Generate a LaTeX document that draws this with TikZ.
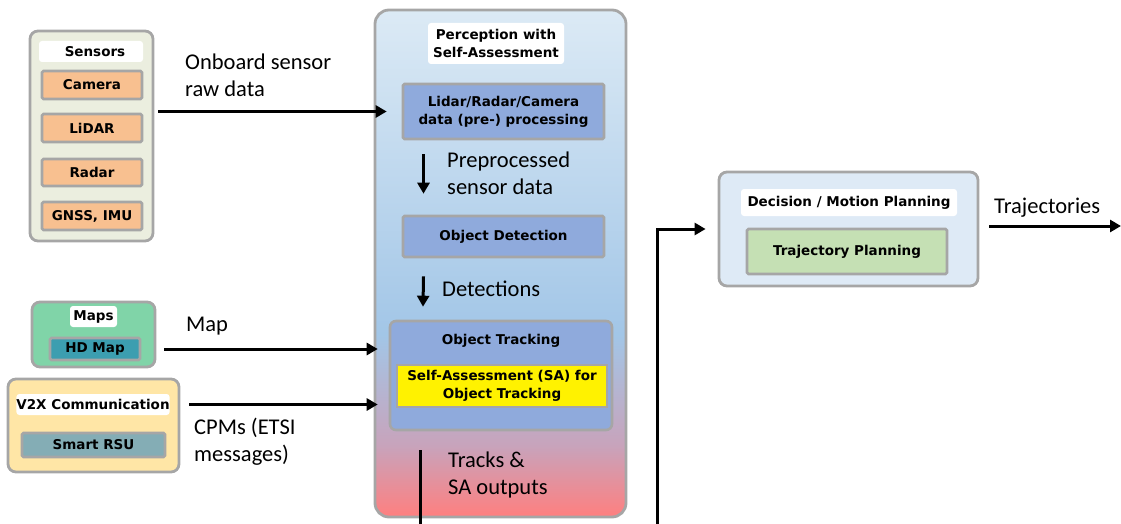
\documentclass[tikz,border=0pt]{standalone}
\usepackage{fontspec}
\setmainfont{Carlito}
\newfontfamily\boitefont{DejaVu Sans}
\usetikzlibrary{arrows.meta}

\definecolor{bord}{HTML}{A6A6A6}
\definecolor{capteur}{HTML}{EBEEDF}
\definecolor{orange1}{HTML}{F8C090}
\definecolor{bleu1}{HTML}{8FAADC}
\definecolor{vert1}{HTML}{80D4A8}
\definecolor{sarcelle}{HTML}{3C9EB0}
\definecolor{jaune1}{HTML}{FFE6A6}
\definecolor{gris1}{HTML}{84ADB5}
\definecolor{bleuclair}{HTML}{DEEAF6}
\definecolor{vert2}{HTML}{C5E0B4}
\definecolor{hautp}{HTML}{DCEAF5}
\definecolor{milieup}{HTML}{A2C6E7}
\definecolor{rosep}{HTML}{C8A3BB}
\definecolor{basp}{HTML}{FF7F7F}

\pgfdeclareverticalshading{percshade}{100bp}{color(0bp)=(basp); color(25bp)=(basp);
  color(32bp)=(rosep); color(43bp)=(milieup); color(75bp)=(hautp); color(100bp)=(hautp)}

\tikzset{cadre/.style = {draw=bord, line width=2.8pt, rounded corners=#1, inner sep=0pt},
         cadre/.default=8pt,
         case/.style = {draw=bord, line width=2.6pt, fill=#1, rounded corners=1.5pt, inner sep=0pt,
                        font=\boitefont\bfseries\fontsize{13.5}{18}\selectfont, align=center},
         case/.default=bleu1,
         titre/.style = {fill=white, rounded corners=3pt, inner sep=0pt,
                         font=\boitefont\bfseries\fontsize{13.5}{18}\selectfont, align=center},
         legende/.style = {anchor=west, inner sep=0pt, align=left,
                           font=\fontsize{22.5}{27}\selectfont},
         fleche/.style = {line width=3pt, -{Triangle[length=11pt,width=12pt]}},
         trait/.style = {line width=3pt}
        }

\begin{document}
\begin{tikzpicture}[x=1pt, y=-1pt]
  \useasboundingbox (0,0) rectangle (1121,524);

  % sensors
  \node[cadre, fill=capteur, minimum width=123pt, minimum height=210pt] (sensors) at (91.5,136) {};
  \node[titre, minimum width=104pt, minimum height=21pt] (sensorstitle) at (91,51.5) {\hspace*{8pt}Sensors};
  \node[case=orange1, minimum width=100pt, minimum height=28pt] (camera) at (92,85) {Camera};
  \node[case=orange1, minimum width=100pt, minimum height=28pt] (lidar) at (92,128) {LiDAR};
  \node[case=orange1, minimum width=100pt, minimum height=27pt] (radar) at (92,172.5) {Radar};
  \node[case=orange1, minimum width=100pt, minimum height=28pt] (gnss) at (92,216) {GNSS, IMU};

  % maps
  \node[cadre, fill=vert1, minimum width=123pt, minimum height=65pt] (maps) at (93.5,334.5) {};
  \node[titre, minimum width=47pt, minimum height=21pt] (mapstitle) at (93.5,316.5) {Maps};
  \node[case=sarcelle, minimum width=90pt, minimum height=22pt] (hdmap) at (95,349) {HD Map};

  % v2x
  \node[cadre, fill=jaune1, minimum width=171pt, minimum height=93pt] (v2x) at (93.5,425.5) {};
  \node[titre, minimum width=144pt, minimum height=21pt] (v2xtitle) at (93,404.5) {V2X Communication};
  \node[case=gris1, minimum width=143pt, minimum height=24pt] (rsu) at (93.5,445) {Smart RSU};

  % perception
  \node[cadre=14pt, shade, shading=percshade, minimum width=251pt, minimum height=507pt] (perc) at (500.5,263.5) {};
  \node[titre, minimum width=136pt, minimum height=41pt] (perctitle) at (496,43.5) {Perception with\\Self-Assessment};
  \node[case, minimum width=201pt, minimum height=55pt] (prepro) at (503.5,111.5) {Lidar/Radar/Camera\\data (pre-) processing};
  \node[case, minimum width=201pt, minimum height=41pt] (objdet) at (503.5,236.5) {Object Detection};
  \node[case, rounded corners=6pt, minimum width=222pt, minimum height=109pt] (track) at (501,375.5) {};
  \node[titre, fill=none] (tracktitle) at (501,341) {Object Tracking};
  \node[case=yellow, line width=1.5pt, rounded corners=0pt, minimum width=210pt, minimum height=42pt] (sa) at (502,386) {Self-Assessment (SA) for\\Object Tracking};

  % planning
  \node[cadre, fill=bleuclair, minimum width=259pt, minimum height=114pt] (decision) at (848.5,229) {};
  \node[titre, minimum width=216pt, minimum height=27pt] (decisiontitle) at (849,202.5) {Decision / Motion Planning};
  \node[case=vert2, minimum width=200pt, minimum height=45pt] (trajplan) at (847,251.5) {Trajectory Planning};

  % labels
  \node[legende] (lonboard) at (185,75.5) {Onboard sensor\\raw data};
  \node[legende] (lmap) at (186,326) {Map};
  \node[legende] (lcpm) at (194,442) {CPMs (ETSI\\messages)};
  \node[legende] (lprepro) at (447,173.5) {Preprocessed\\sensor data};
  \node[legende] (ldet) at (442,289) {Detections};
  \node[legende] (ltracks) at (448,474.5) {Tracks \&\\SA outputs};
  \node[legende] (ltraj) at (994,208) {Trajectories};

  % connectors
  \coordinate (tracksout) at (420,450);
  \coordinate (tracksend) at (420,524);
  \coordinate (planin) at (657,524);
  \coordinate (trajout) at (1121,226);

  \draw[fleche] ([xshift=4pt]sensors.east |- prepro) -- ([xshift=-15pt]prepro.west);
  \draw[fleche] ([xshift=8pt]maps.east |- hdmap) -- ([xshift=-11pt]track.west |- hdmap);
  \draw[fleche] ([xshift=9pt]v2x.east |- v2xtitle) -- ([xshift=-11pt]track.west |- v2xtitle);
  \draw[fleche] ([xshift=-80pt,yshift=-14pt]prepro.south) -- ([xshift=-80pt,yshift=21pt]objdet.north);
  \draw[fleche] ([xshift=-80pt,yshift=-18pt]objdet.south) -- ([xshift=-78pt,yshift=13pt]track.north);
  \draw[trait] (tracksout) -- (tracksend);
  \draw[fleche] (planin) |- ([xshift=-12pt]decision.west);
  \draw[fleche] ([xshift=10pt]decision.east |- trajout) -- (trajout);
\end{tikzpicture}
\end{document}
